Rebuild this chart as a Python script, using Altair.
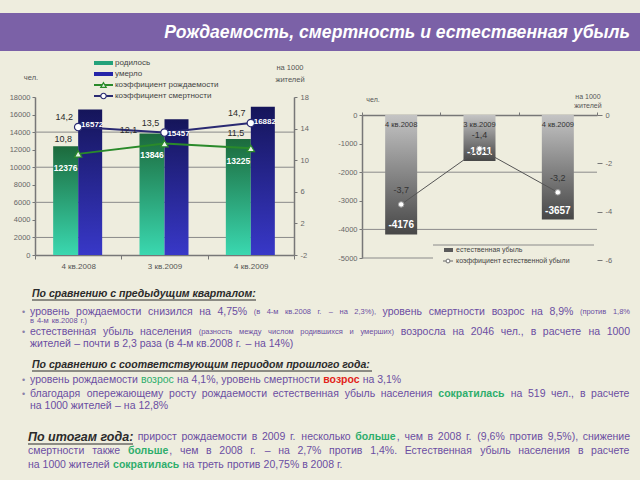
import re
import altair as alt
import pandas as pd

# ---------------- data ----------------
QUARTERS = ["4 кв.2008", "3 кв.2009", "4 кв.2009"]
BORN = [12376, 13846, 13225]
DIED = [16572, 15457, 16882]
BIRTH_RATE = [10.8, 12.1, 11.5]
DEATH_RATE = [14.2, 13.5, 14.7]
LOSS = [-4176, -1611, -3657]
LOSS_RATE = [-3.7, -1.4, -3.2]

LEFT_TICKS = [0, 2000, 4000, 6000, 8000, 10000, 12000, 14000, 16000, 18000]
LEFT_GRID = [2000, 6000, 10000, 14000]
RATE_TICKS = [-2, 2, 6, 10, 14, 18]
LOSS_TICKS = [0, -1000, -2000, -3000, -4000, -5000]
LOSS_GRID = [-2000, -4000]
LOSS_RATE_TICKS = [0, -2, -4, -6]


def comma(v):
    return f"{v:.1f}".replace(".", ",")


FONT = "Liberation Sans"
BG = "#eeedde"
PURPLE = "#6b4ea2"
GREEN_T = "#2eae6c"
RED_T = "#e2231a"
DARK = "#2b2b2b"
AX = "#666666"

ONE = pd.DataFrame({"a": [0]})


def txt(s, x, y, size=10, color=PURPLE, weight="normal", style="normal",
        align="left", baseline="middle", font=FONT):
    return alt.Chart(pd.DataFrame({"t": [s]})).mark_text(
        x=x, y=y, align=align, baseline=baseline, fontSize=size, color=color,
        fontWeight=weight, fontStyle=style, font=font).encode(text="t:N")


def rule(x1, x2, y1, y2, color="#888", width=1.0):
    return alt.Chart(ONE).mark_rule(color=color, strokeWidth=width).encode(
        x=alt.value(x1), x2=alt.value(x2), y=alt.value(y1), y2=alt.value(y2))


def box(x1, x2, y1, y2, fill):
    return alt.Chart(ONE).mark_rect(fill=fill).encode(
        x=alt.value(x1), x2=alt.value(x2), y=alt.value(y1), y2=alt.value(y2))


def dot(x, y, shape, fill, stroke, size=40):
    return alt.Chart(ONE).mark_point(shape=shape, filled=True, fill=fill, stroke=stroke,
                                     strokeWidth=1.2, size=size, opacity=1).encode(
        x=alt.value(x), y=alt.value(y))


def grad(top, bottom):
    return {"gradient": "linear", "x1": 0, "y1": 0, "x2": 0, "y2": 1,
            "stops": [{"offset": 0, "color": top}, {"offset": 1, "color": bottom}]}


# ---- approximate Arial / Liberation Sans advance widths (per 1000 em) for text layout ----
WID = {" ": 278, ",": 278, ".": 278, "%": 889, "(": 333, ")": 333, "–": 556, "-": 333, ":": 278,
       "а": 556, "б": 573, "в": 531, "г": 365, "д": 583, "е": 556, "ж": 669, "з": 458, "и": 559,
       "й": 559, "к": 438, "л": 583, "м": 688, "н": 552, "о": 556, "п": 542, "р": 556, "с": 500,
       "т": 458, "у": 500, "ф": 823, "х": 500, "ц": 573, "ч": 521, "ш": 802, "щ": 823, "ъ": 625,
       "ы": 719, "ь": 521, "э": 510, "ю": 750, "я": 542}


def text_w(s, size, bold=False):
    tot = 0
    for c in s:
        if c in WID:
            tot += WID[c]
        elif c.isupper():
            tot += 700
        else:
            tot += 556
    return tot / 1000 * size * (1.1 if bold else 1.0)


BODY = dict(size=10.5, color=PURPLE, weight="normal", style="normal")
SMALL = dict(size=7.5, color=PURPLE, weight="normal", style="normal")
GREEN = dict(size=10.5, color=GREEN_T, weight="normal", style="normal")
GREENB = dict(size=10.5, color=GREEN_T, weight="bold", style="normal")
REDB = dict(size=10.5, color=RED_T, weight="bold", style="normal")
HEAD = dict(size=12.5, color=DARK, weight="bold", style="italic", whole=105)


def line(runs, y, x0, x1=None):
    """Lay out word by word; if x1 is given the line is justified between x0 and x1."""
    pieces = []
    gap = False
    for text, st in runs:
        toks = [text.strip()] if "whole" in st else re.split(r"( )", text)
        for tok in toks:
            if tok == "":
                continue
            if tok == " ":
                gap = True
                continue
            pieces.append((tok, st, gap and len(pieces) > 0))
            gap = False
    widths = [p[1].get("whole") or text_w(p[0], p[1]["size"], p[1]["weight"] == "bold") for p in pieces]
    n_gaps = sum(1 for p in pieces if p[2])
    if x1 is not None and n_gaps:
        sp = (x1 - x0 - sum(widths)) / n_gaps
    else:
        sp = 0.278 * 10.5
    out = []
    x = x0
    for (tok, st, g), w in zip(pieces, widths):
        if g:
            x += sp
        out.append(txt(tok, x, y, size=st["size"], color=st["color"], weight=st["weight"],
                       style=st["style"]))
        x += w
    return out


ax_common = dict(title=None, labelFont=FONT, labelFontSize=7.5, labelColor=AX,
                 domainColor="#777", tickColor="#777", grid=False)

# ---------------- left chart ----------------
XL = alt.X("q:N", sort=QUARTERS,
           scale=alt.Scale(domain=QUARTERS, range=[35, 294], paddingInner=0, paddingOuter=0),
           axis=alt.Axis(orient="bottom", offset=-225, labelAngle=0, tickBand="extent",
                         tickSize=4, labelPadding=3, domainWidth=1.5,
                         **{**ax_common, "labelFontSize": 8, "labelColor": "#555"}))
YL_SCALE = alt.Scale(domain=[0, 18000], range=[255, 97], nice=False, zero=False)
YL = alt.Y("v:Q", scale=YL_SCALE,
           axis=alt.Axis(orient="left", offset=-35, values=LEFT_TICKS, tickSize=3,
                         labelExpr="'' + datum.value", domainWidth=1.5, labelPadding=2, **ax_common))
YL_NOAX = alt.Y("v:Q", scale=YL_SCALE, axis=None)
YR = alt.Y("r:Q", scale=alt.Scale(domain=[-2, 18], range=[255, 97], nice=False, zero=False),
           axis=alt.Axis(orient="right", offset=-346, values=RATE_TICKS, tickSize=3,
                         labelExpr="'' + datum.value", domainWidth=1.5, labelPadding=3, **ax_common))

df_born = pd.DataFrame({"q": QUARTERS, "v": BORN, "lab": [str(v) for v in BORN]})
df_died = pd.DataFrame({"q": QUARTERS, "v": DIED, "lab": [str(v) for v in DIED]})
df_grid = pd.DataFrame({"v": LEFT_GRID})
df_br = pd.DataFrame({"q": QUARTERS, "r": BIRTH_RATE, "lab": [comma(v) for v in BIRTH_RATE]})
df_dr = pd.DataFrame({"q": QUARTERS, "r": DEATH_RATE, "lab": [comma(v) for v in DEATH_RATE]})

grid_l = alt.Chart(df_grid).mark_rule(color="#8a8a8a", strokeWidth=1).encode(
    y=YL, x=alt.value(35), x2=alt.value(294))
born_bar = alt.Chart(df_born).mark_bar(width=25, xOffset=-12.5, color=grad("#1c6a3c", "#3ad8b0")).encode(x=XL, y=YL)
died_bar = alt.Chart(df_died).mark_bar(width=24, xOffset=12, color=grad("#15155a", "#3838c8")).encode(x=XL, y=YL)
left_bars = alt.layer(grid_l, born_bar, died_bar)

born_lab = alt.Chart(df_born).mark_text(xOffset=-12.5, dy=22, color="white", fontWeight="bold",
                                        fontSize=8.5, font=FONT).encode(x=XL, y=YL_NOAX, text="lab:N")
died_lab = alt.Chart(df_died).mark_text(xOffset=14, dy=15, color="white", fontWeight="bold",
                                        fontSize=8, font=FONT).encode(x=XL, y=YL_NOAX, text="lab:N")
left_labels = alt.layer(born_lab, died_lab)

b_line = alt.Chart(df_br).mark_line(color="#2a8a2a", strokeWidth=2).encode(x=XL, y=YR)
d_line = alt.Chart(df_dr).mark_line(color="#2a2a72", strokeWidth=2).encode(x=XL, y=YR)
b_pts = alt.Chart(df_br).mark_point(shape="triangle-up", filled=True, fill="#e8f5e8", stroke="#2a8a2a",
                                    strokeWidth=1.2, size=55, opacity=1).encode(x=XL, y=YR)
d_pts = alt.Chart(df_dr).mark_point(shape="circle", filled=True, fill="white", stroke="#2a2a72",
                                    strokeWidth=1.2, size=55, opacity=1).encode(x=XL, y=YR)
b_lab1 = alt.Chart(df_br).transform_filter(alt.datum.q != QUARTERS[1]).mark_text(
    dx=-15, dy=-15, fontSize=9, color=DARK, font=FONT).encode(x=XL, y=YR, text="lab:N")
b_lab2 = alt.Chart(df_br).transform_filter(alt.datum.q == QUARTERS[1]).mark_text(
    dx=-36, dy=-14, fontSize=9, color=DARK, font=FONT).encode(x=XL, y=YR, text="lab:N")
d_lab = alt.Chart(df_dr).mark_text(dx=-14, dy=-10, fontSize=9, color=DARK, font=FONT).encode(
    x=XL, y=YR, text="lab:N")
left_rates = alt.layer(b_line, d_line, b_pts, d_pts, b_lab1, b_lab2, d_lab)

left = alt.layer(left_bars, left_rates, left_labels).resolve_scale(y="independent")

# ---------------- right chart ----------------
XR = alt.X("q:N", sort=QUARTERS,
           scale=alt.Scale(domain=QUARTERS, range=[362, 597], paddingInner=0, paddingOuter=0),
           axis=alt.Axis(orient="top", offset=-115, labels=False, tickBand="extent", tickSize=3,
                         domainWidth=1.5, **ax_common))
YRL = alt.Y("v:Q", scale=alt.Scale(domain=[-5000, 0], range=[258, 115], nice=False),
            axis=alt.Axis(orient="left", offset=-362, values=LOSS_TICKS, tickSize=3, domainWidth=1.5,
                          labelExpr="'' + datum.value", labelPadding=2, **ax_common))
YRR = alt.Y("r:Q", scale=alt.Scale(domain=[-6, 0], range=[260, 115], nice=False, zero=False),
            axis=alt.Axis(orient="right", offset=-43, values=LOSS_RATE_TICKS, tickSize=5, domain=False,
                          labelExpr="'' + datum.value", labelPadding=3, **ax_common))

df_loss = pd.DataFrame({"q": QUARTERS, "v": LOSS, "lab": [str(v) for v in LOSS]})
df_lgrid = pd.DataFrame({"v": LOSS_GRID})
df_lr = pd.DataFrame({"q": QUARTERS, "r": LOSS_RATE, "lab": [comma(v) for v in LOSS_RATE]})

grid_r = alt.Chart(df_lgrid).mark_rule(color="#8a8a8a", strokeWidth=1).encode(
    y=YRL, x=alt.value(362), x2=alt.value(597))
loss_bar = alt.Chart(df_loss).mark_bar(width=32, color=grad("#c4c4c4", "#474747")).encode(x=XR, y=YRL)
loss_lab = alt.Chart(df_loss).mark_text(dy=-9, color="white", fontWeight="bold", fontSize=10,
                                        font=FONT).encode(x=XR, y=YRL, text="lab:N")
cat_lab = alt.Chart(pd.DataFrame({"q": QUARTERS})).mark_text(fontSize=7.5, color="#333", font=FONT).encode(
    x=XR, y=alt.value(125), text="q:N")
right_bars = alt.layer(grid_r, loss_bar, loss_lab, cat_lab)

lr_line = alt.Chart(df_lr).mark_line(color="#555555", strokeWidth=1).encode(x=XR, y=YRR)
lr_pts = alt.Chart(df_lr).mark_point(shape="circle", filled=True, fill="white", stroke="#999",
                                     strokeWidth=1, size=30, opacity=1).encode(x=XR, y=YRR)
lr_lab = alt.Chart(df_lr).mark_text(dy=-14, fontSize=9, color="#333", font=FONT).encode(
    x=XR, y=YRR, text="lab:N")
right_rates = alt.layer(lr_line, lr_pts, lr_lab)

right = alt.layer(right_bars, right_rates).resolve_scale(y="independent")

# ---------------- decorations / texts ----------------
deco = [
    box(0, 640, 13, 51, "#7b61a7"),
    txt("Рождаемость, смертность и естественная убыль", 630, 33, size=17.6, color="white",
        weight="bold", style="italic", align="right"),
]

left_extra = [
    txt("чел.", 31, 78, size=7.5, color="#555", align="center"),
    txt("на 1000", 290, 68, size=7.5, color="#555", align="center"),
    txt("жителей", 290, 80, size=7.5, color="#555", align="center"),
    box(94, 113, 61, 65, "#23a27a"),
    txt("родилось", 115, 63, size=8, color="#444"),
    box(94, 113, 72, 76, "#2525a8"),
    txt("умерло", 115, 74, size=8, color="#444"),
    rule(94, 113, 85, 85, "#2a8a2a", 2),
    dot(103.5, 85, "triangle-up", "#e8f5e8", "#2a8a2a", 30),
    txt("коэффициент рождаемости", 115, 85, size=8, color="#444"),
    rule(94, 113, 96, 96, "#2a2a72", 2),
    dot(103.5, 96, "circle", "white", "#2a2a72", 30),
    txt("коэффициент смертности", 115, 96, size=8, color="#444"),
]

right_extra = [
    txt("чел.", 373, 100, size=7, color="#555", align="center"),
    txt("на 1000", 588, 97, size=7, color="#555", align="center"),
    txt("жителей", 588, 106, size=7, color="#555", align="center"),
    rule(362, 433, 258, 258, "#8a8a8a", 1),
    rule(433, 594, 245, 245, "#8a8a8a", 1),
    box(444, 453, 248, 252, "#5a5a5a"),
    txt("естественная убыль", 456, 250, size=7, color="#444"),
    rule(443, 453, 261, 261, "#666", 1),
    dot(448, 261, "circle", "white", "#888", 14),
    txt("коэффициент естественной убыли", 456, 261, size=7, color="#444"),
]

bullet = dict(size=9, color="#8a80a8")
body = [
    txt("По сравнению с предыдущим кварталом:", 32, 294, size=10.5, color=DARK, weight="bold", style="italic"),
    rule(32, 256, 300, 300, DARK, 1),
    txt("•", 22, 312, **bullet),
    *line([("уровень рождаемости снизился на 4,75% ", BODY), ("(в 4-м кв.2008 г. – на 2,3%), ", SMALL),
           ("уровень смертности возрос на 8,9% ", BODY), ("(против 1,8%", SMALL)], 312, 30, 630),
    *line([("в 4-м кв.2008 г.)", SMALL)], 321, 30),
    txt("•", 22, 332, **bullet),
    *line([("естественная убыль населения ", BODY), ("(разность между числом родившихся и умерших) ", SMALL),
           ("возросла на 2046 чел., в расчете на 1000", BODY)], 332, 30, 630),
    *line([("жителей – почти в 2,3 раза (в 4-м кв.2008 г. – на 14%)", BODY)], 344, 30),

    txt("По сравнению с соответствующим периодом прошлого года:", 32, 365, size=10.5, color=DARK,
        weight="bold", style="italic"),
    rule(32, 372, 371, 371, DARK, 1),
    txt("•", 22, 380, **bullet),
    *line([("уровень рождаемости ", BODY), ("возрос", GREEN), (" на 4,1%, уровень смертности ", BODY),
           ("возрос", REDB), (" на 3,1%", BODY)], 380, 30),
    txt("•", 22, 394, **bullet),
    *line([("благодаря опережающему росту рождаемости естественная убыль населения ", BODY),
           ("сократилась", GREENB), (" на 519 чел., в расчете", BODY)], 394, 30, 630),
    *line([("на 1000 жителей – на 12,8%", BODY)], 406, 30),

    rule(28, 133, 444, 444, DARK, 1.2),
    *line([("По итогам года:", HEAD), (" прирост рождаемости в 2009 г. несколько ", BODY), ("больше", GREENB),
           (", чем в 2008 г. (9,6% против 9,5%), снижение", BODY)], 437, 28, 630),
    *line([("смертности также ", BODY), ("больше", GREENB),
           (", чем в 2008 г. – на 2,7% против 1,4%. Естественная убыль населения в расчете", BODY)],
          451, 28, 630),
    *line([("на 1000 жителей ", BODY), ("сократилась", GREENB), (" на треть против 20,75% в 2008 г.", BODY)],
          465, 28),
]

chart = alt.layer(
    *deco, left, right, *left_extra, *right_extra, *body
).resolve_scale(x="independent", y="independent").properties(
    width=640, height=480, autosize=alt.AutoSizeParams(type="none"), padding=0, background=BG
).configure_view(stroke=None)

chart.save("out.html", embed_options={"renderer": "svg", "actions": False})
